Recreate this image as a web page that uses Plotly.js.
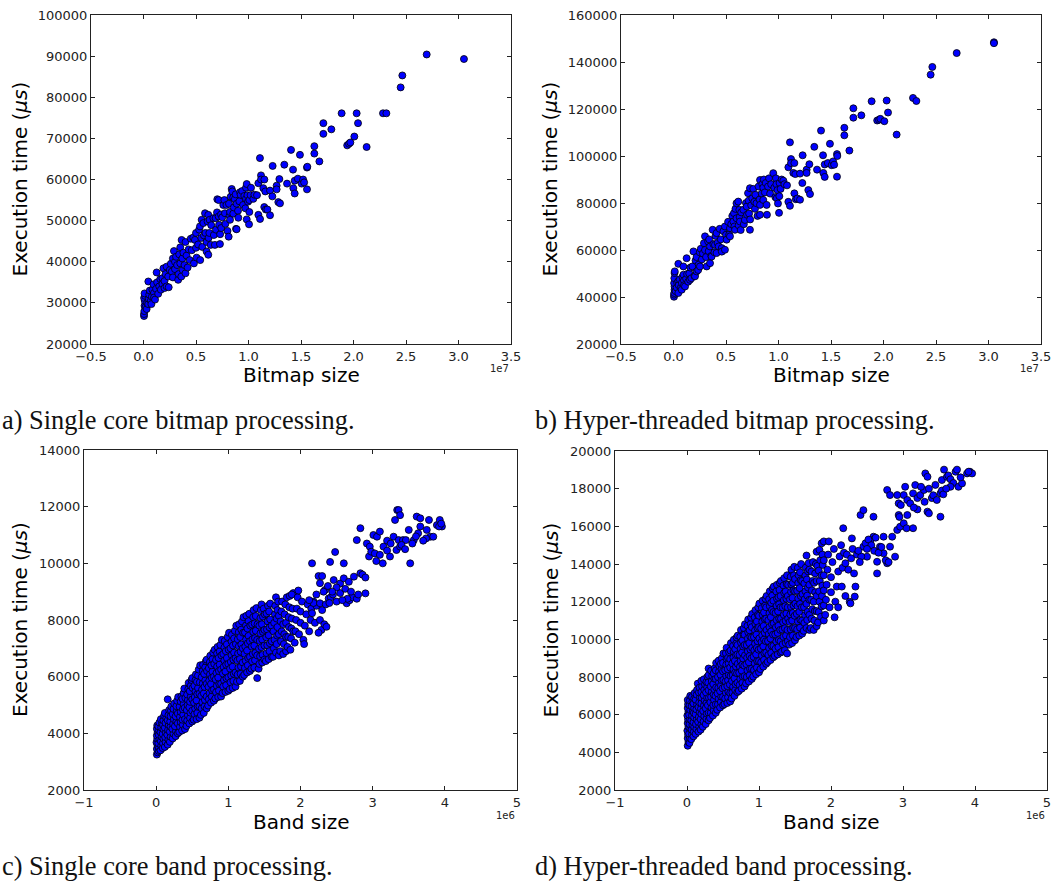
<!DOCTYPE html>
<html>
<head>
<meta charset="utf-8">
<script src="https://cdn.plot.ly/plotly-3.0.1.min.js"></script>
<style>
html,body{margin:0;padding:0;background:#fff;}
#chart{width:1059px;height:884px;}
</style>
</head>
<body>
<div id="chart"></div>
<script>
// ---- Data: [size, execution time in microseconds] ----
// (a) Single core bitmap processing (size in units of 1e7)
const singleCoreBitmap = [
[0.005,26800],[0.005,27300],[0.008,28000],[0.01,29300],[0.012,30500],[0.006,31200],[0.015,31700],[0.01,32300],[0.02,29000],[0.03,28500],[0.035,30000],[0.045,29700],[0.05,31000],[0.046,35200],[0.055,32000],[0.06,33000],[0.07,30500],[0.075,29700],[0.08,31500],[0.085,33200],[0.095,34500],[0.10,32400],[0.10,31300],
[0.11,30800],[0.12,33400],[0.125,37400],[0.13,35000],[0.14,32200],[0.15,34000],[0.16,35800],[0.165,33200],[0.18,36000],[0.18,34600],[0.19,38400],[0.2,33600],[0.2,35300],[0.21,37000],[0.22,38800],[0.22,34000],[0.235,36400],[0.24,33800],[0.25,38000],
[0.26,39500],[0.27,37600],[0.28,40800],[0.28,36200],[0.29,42600],[0.3,40000],[0.3,38200],[0.31,41200],[0.32,39200],[0.33,35600],[0.335,37000],[0.34,41800],[0.35,43500],[0.35,39600],[0.36,36400],[0.363,45300],[0.37,40800],[0.373,38000],[0.38,42200],[0.39,39200],[0.4,44800],[0.4,37200],[0.41,41500],[0.42,38600],[0.43,43000],[0.44,40400],[0.45,45600],
[0.46,42800],[0.475,45900],[0.48,39600],[0.49,45300],[0.5,43400],[0.5,47000],[0.506,41000],[0.52,44200],[0.53,47800],[0.538,48600],[0.54,40400],[0.55,45800],[0.554,50200],[0.56,43600],[0.57,49400],[0.575,46400],[0.586,51800],[0.59,47000],[0.6,44800],[0.601,42500],[0.61,49800],[0.617,41700],[0.617,51400],[0.62,45800],[0.627,47000],[0.63,50200],[0.64,44100],[0.645,48900],
[0.665,50600],[0.67,46500],[0.68,44100],[0.687,50600],[0.69,47800],[0.7,52000],[0.703,55200],[0.716,51000],[0.716,55000],[0.72,49000],[0.728,44300],[0.73,46700],[0.738,51500],[0.74,48200],[0.75,50800],[0.76,53800],[0.77,55000],[0.776,51800],[0.78,49200],[0.79,53800],[0.8,47500],[0.811,46100],[0.814,54100],[0.82,51200],[0.824,52100],[0.824,50200],[0.83,55800],[0.84,57700],[0.846,57100],[0.855,51700],[0.855,55600],
[0.86,53200],[0.87,55200],[0.878,56400],[0.881,48000],[0.887,47900],[0.887,54100],[0.9,52400],[0.903,50700],[0.913,54700],[0.919,56900],[0.925,56300],[0.94,57200],[0.948,53800],[0.96,56000],[0.97,53000],[0.976,58000],[0.976,55300],[0.983,58900],[0.983,50300],[0.99,56200],[0.995,54600],[1.005,49100],[1.008,52100],[1.008,55000],[1.02,56200],[1.024,58000],[1.046,55300],[1.056,56300],[1.081,56200],
[1.094,59100],[1.094,51400],[1.109,65200],[1.11,50400],[1.119,61000],[1.119,60000],[1.141,57900],[1.15,53300],[1.151,60000],[1.16,57100],[1.165,52700],[1.18,52700],[1.205,57300],[1.205,51300],[1.227,55900],[1.23,63300],[1.268,58500],[1.268,57600],[1.284,54500],[1.294,60100],[1.3,54200],[1.341,63600],[1.367,59000],[1.405,67200],[1.424,62400],[1.427,57900],[1.44,59700],[1.44,56600],[1.47,60200],[1.49,66000],[1.506,59000],[1.52,60000],[1.53,59300],[1.557,62900],[1.557,57600],[1.56,63100],
[1.627,68100],[1.627,66300],[1.675,64400],[1.713,73700],[1.713,71100],[1.789,72200],[1.887,76100],[1.94,68300],[1.957,68700],[1.97,69000],[2.008,70450],[2.03,76100],[2.043,73700],[2.125,67900],[2.281,76100],[2.313,76100],[2.449,82400],[2.465,85300],[2.697,90400],[3.052,89300]
];

// (b) Hyper-threaded bitmap processing (size in units of 1e7)
const hyperThreadedBitmap = [
[0.005,40100],[0.005,41000],[0.008,41700],[0.01,43100],[0.01,44500],[0.006,45900],[0.008,48000],[0.01,50200],[0.012,50900],[0.02,42500],[0.03,44000],[0.035,46000],[0.046,41700],[0.046,46700],[0.046,54100],[0.05,45000],[0.06,47500],[0.07,44000],[0.078,43100],[0.08,46000],[0.085,48500],[0.095,49500],[0.094,53000],[0.1,47000],[0.1,45000],
[0.11,44500],[0.12,47800],[0.125,56500],[0.13,49800],[0.14,46500],[0.15,50000],[0.157,47300],[0.16,52500],[0.17,48000],[0.18,53000],[0.19,59400],[0.2,49000],[0.205,48800],[0.21,55500],[0.22,50900],[0.22,57000],[0.235,51500],[0.24,53800],[0.25,59000],
[0.252,53000],[0.26,60500],[0.27,56000],[0.28,58500],[0.29,62900],[0.3,65800],[0.3,60000],[0.31,57000],[0.316,53000],[0.33,63600],[0.335,59500],[0.34,64500],[0.348,54400],[0.348,61500],[0.36,57500],[0.363,57200],[0.373,68600],[0.38,62500],[0.39,59000],[0.395,62200],[0.4,66000],[0.41,58700],[0.41,67200],[0.42,63000],[0.43,61500],[0.44,69000],[0.45,64500],
[0.46,60800],[0.46,59300],[0.475,68000],[0.49,60100],[0.49,70000],[0.5,66500],[0.506,64400],[0.52,72000],[0.53,66500],[0.538,69300],[0.538,65800],[0.55,71000],[0.56,74500],[0.57,72100],[0.576,75700],[0.58,70000],[0.586,68600],[0.59,77500],[0.6,79900],[0.6,73500],[0.617,80600],[0.62,70500],[0.627,77100],[0.63,74000],[0.633,72100],[0.64,68500],[0.645,76000],
[0.665,77100],[0.67,71000],[0.68,72800],[0.69,80000],[0.697,78500],[0.7,75000],[0.71,84200],[0.716,81000],[0.72,75500],[0.728,86300],[0.728,68600],[0.73,73000],[0.74,79000],[0.75,82000],[0.76,86000],[0.77,80500],[0.776,77500],[0.78,83500],[0.79,79900],[0.8,74500],[0.81,87000],[0.82,81500],[0.824,79200],[0.824,75000],[0.824,89800],[0.84,84000],[0.846,88000],[0.855,81300],[0.855,86500],
[0.86,90000],[0.87,84500],[0.878,88500],[0.887,79200],[0.89,75000],[0.9,87000],[0.91,90500],[0.92,84000],[0.93,88000],[0.95,92700],[0.96,86500],[0.97,82500],[0.975,90500],[0.98,88000],[0.983,82000],[0.99,85500],[0.995,79800],[1.005,75800],[1.008,82900],[1.01,88500],[1.02,86000],[1.03,90000],[1.046,89500],[1.056,88000],[1.081,87500],
[1.094,95200],[1.094,80500],[1.109,105800],[1.109,78800],[1.119,98700],[1.119,97000],[1.141,92800],[1.151,84100],[1.151,97000],[1.16,92300],[1.165,81600],[1.18,81900],[1.205,92500],[1.205,81400],[1.227,88500],[1.23,100300],[1.268,94200],[1.268,92800],[1.284,85500],[1.294,96500],[1.3,83800],[1.341,103900],[1.367,94200],[1.405,110800],[1.424,100300],[1.427,92800],[1.44,96400],[1.44,91100],[1.47,97000],[1.49,105200],[1.506,96100],[1.52,97700],[1.53,96300],[1.557,100800],[1.557,91200],[1.56,100000],
[1.627,112000],[1.627,108800],[1.675,102300],[1.713,120300],[1.713,116300],[1.789,117300],[1.887,123300],[1.94,115100],[1.957,115400],[1.97,115800],[2.008,114800],[2.03,123600],[2.043,118500],[2.125,109100],[2.281,124700],[2.313,123400],[2.449,134600],[2.465,137900],[2.697,143800],[3.052,148400],[3.052,148000]
];

// (c) Single core band processing (size in units of 1e6)
const singleCoreBand = [
[0.01,3250],[0.02,3330],[0.01,3450],[0.02,3560],[0.005,3680],[0.015,3800],[0.01,3920],[0.02,4040],[0.01,4160],[0.015,4280],[0.035,3380],[0.04,3500],[0.03,3650],[0.045,3790],[0.035,3950],[0.04,4100],[0.03,4250],[0.045,4380],
[0.06,3400],[0.07,3560],[0.065,3720],[0.075,3880],[0.06,4040],[0.07,4200],[0.08,4350],[0.065,4500],[0.09,3480],[0.095,3650],[0.1,3820],[0.09,3980],[0.1,4150],[0.095,4300],[0.1,4460],[0.11,4620],
[0.12,3520],[0.13,3700],[0.125,3870],[0.135,4030],[0.12,4200],[0.13,4370],[0.14,4540],[0.12,4720],[0.16,3600],[0.17,3780],[0.155,3950],[0.165,4120],[0.175,4290],[0.16,4460],[0.17,4640],[0.18,4820],[0.16,5200],[0.19,3700],[0.2,3880],[0.19,4060],[0.2,4240],[0.195,4420],[0.2,4600],[0.205,4800],[0.21,4950],
[0.23,3820],[0.24,3990],[0.225,4160],[0.235,4330],[0.245,4500],[0.23,4680],[0.24,4860],[0.25,5050],[0.27,3900],[0.275,4080],[0.26,4250],[0.28,4420],[0.27,4600],[0.285,4780],[0.28,4960],[0.29,5150],[0.3,4000],[0.3,4350],[0.3,4700],[0.305,5280],
[0.32,4050],[0.33,4230],[0.34,4400],[0.33,4580],[0.34,4760],[0.325,4940],[0.34,5120],[0.35,5300],[0.36,4100],[0.37,4300],[0.365,4480],[0.375,4660],[0.37,4850],[0.38,5030],[0.365,5220],[0.38,5420],[0.39,5580],[0.4,4150],[0.4,4500],[0.395,4900],[0.405,5250],
[0.42,4260],[0.43,4450],[0.44,4640],[0.425,4820],[0.435,5000],[0.44,5180],[0.43,5370],[0.445,5560],[0.45,5780],[0.46,4350],[0.47,4540],[0.475,4730],[0.46,4920],[0.47,5110],[0.48,5300],[0.465,5490],[0.48,5680],[0.49,5880],[0.5,4420],[0.5,4800],[0.5,5200],[0.505,5600],[0.5,5950],
[0.52,4480],[0.53,4680],[0.54,4880],[0.525,5080],[0.535,5280],[0.545,5480],[0.53,5680],[0.545,5880],[0.55,6080],[0.56,4500],[0.57,4720],[0.575,4940],[0.56,5160],[0.57,5380],[0.58,5600],[0.565,5820],[0.58,6040],[0.59,6250],[0.6,4550],[0.6,4950],[0.6,5400],[0.605,5800],[0.61,6400],
[0.62,4650],[0.63,4880],[0.64,5100],[0.625,5320],[0.635,5540],[0.645,5760],[0.63,5980],[0.645,6200],[0.65,6420],[0.66,4720],[0.67,4950],[0.675,5180],[0.66,5410],[0.67,5640],[0.68,5870],[0.665,6100],[0.68,6330],[0.69,6550],[0.7,4880],[0.7,5300],[0.7,5750],[0.705,6200],[0.7,6600],
[0.72,4980],[0.73,5200],[0.74,5420],[0.725,5640],[0.735,5860],[0.745,6080],[0.73,6300],[0.745,6520],[0.75,6740],[0.76,5080],[0.77,5300],[0.775,5520],[0.76,5740],[0.77,5960],[0.78,6180],[0.765,6400],[0.78,6620],[0.79,6850],[0.8,5150],[0.8,5550],[0.8,6000],[0.805,6450],[0.81,6950],
[0.82,5230],[0.83,5450],[0.84,5680],[0.825,5900],[0.835,6130],[0.845,6360],[0.83,6590],[0.845,6820],[0.85,7050],[0.86,5280],[0.87,5510],[0.875,5740],[0.86,5970],[0.87,6200],[0.88,6430],[0.865,6660],[0.88,6890],[0.89,7120],[0.9,5300],[0.9,5750],[0.9,6250],[0.905,6750],[0.91,7300],
[0.92,5420],[0.93,5650],[0.94,5880],[0.925,6110],[0.935,6340],[0.945,6570],[0.93,6800],[0.945,7030],[0.95,7260],[0.96,5460],[0.97,5700],[0.975,5940],[0.96,6180],[0.97,6420],[0.98,6660],[0.965,6900],[0.98,7140],[0.99,7400],[1.0,5500],[1.0,5980],[1.0,6450],[1.005,6950],[1.01,7550],
[1.02,5560],[1.03,5800],[1.04,6040],[1.025,6280],[1.035,6520],[1.045,6760],[1.03,7000],[1.045,7240],[1.05,7480],[1.06,5600],[1.07,5850],[1.075,6100],[1.06,6350],[1.07,6600],[1.08,6850],[1.065,7100],[1.08,7350],[1.09,7620],[1.1,5650],[1.1,6150],[1.1,6650],[1.105,7150],[1.11,7800],
[1.12,5820],[1.13,6070],[1.14,6320],[1.125,6570],[1.135,6820],[1.145,7070],[1.13,7320],[1.145,7570],[1.15,7850],[1.16,5850],[1.17,6100],[1.175,6360],[1.16,6620],[1.17,6880],[1.18,7140],[1.165,7400],[1.18,7660],[1.19,7950],[1.2,6000],[1.2,6500],[1.2,7000],[1.205,7550],[1.21,8100],
[1.22,6060],[1.23,6310],[1.24,6560],[1.225,6810],[1.235,7060],[1.245,7310],[1.23,7560],[1.245,7810],[1.25,8150],[1.26,6150],[1.27,6400],[1.275,6660],[1.26,6920],[1.27,7180],[1.28,7440],[1.265,7700],[1.28,7960],[1.29,8220],[1.3,6200],[1.3,6700],[1.3,7250],[1.305,7800],
[1.32,6280],[1.33,6540],[1.34,6800],[1.325,7060],[1.335,7320],[1.345,7580],[1.33,7840],[1.345,8100],[1.35,8350],[1.36,6320],[1.37,6580],[1.375,6840],[1.36,7100],[1.37,7360],[1.38,7620],[1.365,7880],[1.38,8140],[1.39,8420],[1.4,5950],[1.42,6280],[1.4,6750],[1.4,7300],[1.405,7850],
[1.43,6450],[1.44,6720],[1.425,6990],[1.435,7260],[1.445,7530],[1.43,7800],[1.445,8070],[1.45,8350],[1.46,8550],[1.47,6500],[1.475,6770],[1.46,7040],[1.47,7310],[1.48,7580],[1.465,7850],[1.48,8120],[1.49,8400],[1.5,6600],[1.5,7100],[1.5,7650],[1.505,8200],
[1.52,6550],[1.53,6830],[1.54,7110],[1.525,7390],[1.535,7670],[1.545,7950],[1.53,8230],[1.55,8500],[1.56,6620],[1.57,6900],[1.575,7180],[1.56,7460],[1.57,7740],[1.58,8020],[1.565,8300],[1.58,8580],[1.6,6700],[1.6,7250],[1.6,7800],
[1.62,6700],[1.63,7000],[1.64,7300],[1.625,7600],[1.635,7900],[1.645,8200],[1.65,8500],[1.66,8800],[1.66,6850],[1.67,7150],[1.675,7450],[1.68,7750],[1.67,8050],[1.68,8350],[1.69,8650],[1.7,6750],[1.7,7500],[1.7,8150],
[1.72,6900],[1.73,7250],[1.74,7600],[1.725,7950],[1.735,8300],[1.745,8650],[1.76,6800],[1.77,7150],[1.775,7500],[1.76,7850],[1.78,8200],[1.79,8550],[1.8,6900],[1.8,7400],[1.8,7900],[1.81,8800],
[1.82,7050],[1.83,7400],[1.84,7750],[1.835,8100],[1.845,8450],[1.85,8850],[1.86,6950],[1.87,7350],[1.875,7700],[1.88,8050],[1.89,8400],[1.9,8950],[1.9,7600],[1.88,8900],
[1.92,7200],[1.93,7600],[1.94,8000],[1.95,8400],[1.96,8800],[1.97,9040],[1.98,7500],[2.0,7900],[2.0,8300],[2.02,8650],[2.04,7300],[2.05,7150],[2.06,7800],[2.08,8200],[2.1,8550],[2.12,7600],[2.14,8000],[2.15,8400],[2.16,8240],[2.18,8650],[2.2,7900],[2.22,8500],[2.18,8600],[2.12,8700],
[2.16,10000],[2.25,9550],[2.27,9300],[2.3,9550],[2.34,9060],[2.41,10050],[2.48,10400],[2.6,10000],[2.46,9410],[2.55,9290],[2.6,9470],[2.67,9350],[2.74,9530],[2.83,9650],[2.86,9600],[2.9,9500],[2.9,8940],[2.27,8590],[2.39,8760],[2.5,8650],[2.64,8590],[2.68,8700],[2.72,8800],[2.78,8750],[2.8,8900],[2.27,8000],[2.29,7650],[2.33,7850],[2.36,7760],[2.25,7550],[2.3,8350],[2.35,8550],[2.42,8800],[2.45,8900],[2.55,8950],[2.62,9100],[2.7,9000],[2.65,8750],[2.58,8700],[2.4,8600],[2.22,8900],[2.32,9000],[2.38,9200],[2.5,9150],[2.44,9000],
[2.78,10820],[2.83,11240],[2.92,10700],[2.96,10590],[3.01,11000],[3.06,10940],[3.1,11120],[3.15,10590],[2.95,10240],[2.98,10410],[3.03,10350],[3.05,10080],[3.14,10000],[3.24,10240],[3.29,10940],[3.31,11530],[3.34,11880],[3.36,11880],[3.38,11700],[3.36,10820],[3.33,10470],[3.38,10590],[3.42,10820],[3.46,10820],[3.5,11180],[3.52,10000],[3.57,10820],[3.61,11650],[3.66,11590],[3.66,11300],[3.63,11060],[3.75,11180],[3.78,11530],[3.8,10940],[3.84,10940],[3.89,11350],[3.93,11530],[3.96,11300],[3.92,11300],[3.74,10880],[3.2,10800],[3.25,10700],[3.4,10650],[3.55,10700],[3.6,10950],[3.7,10800],[3.1,10300],[3.2,10450],[3.45,10500],[3.95,11400]
];

// (d) Hyper-threaded band processing (size in units of 1e6)
const hyperThreadedBand = [
[0.01,4350],[0.02,4550],[0.01,4750],[0.015,4950],[0.005,5150],[0.02,5350],[0.01,5550],[0.015,5750],[0.005,5950],[0.02,6150],[0.01,6350],[0.015,6550],[0.01,6780],[0.035,4500],[0.04,4750],[0.03,5000],[0.045,5250],[0.035,5500],[0.04,5750],[0.03,6000],[0.045,6250],[0.035,6500],[0.04,6750],[0.045,7000],
[0.06,4700],[0.07,4950],[0.065,5200],[0.075,5450],[0.06,5700],[0.07,5950],[0.08,6200],[0.065,6450],[0.075,6700],[0.07,6950],[0.09,4850],[0.095,5100],[0.1,5350],[0.09,5600],[0.1,5850],[0.095,6100],[0.1,6350],[0.09,6600],[0.1,6850],[0.105,7150],
[0.12,4980],[0.13,5240],[0.125,5500],[0.135,5760],[0.12,6020],[0.13,6280],[0.14,6540],[0.12,6800],[0.135,7060],[0.14,7320],[0.15,7650],[0.16,5100],[0.17,5360],[0.155,5620],[0.165,5880],[0.175,6140],[0.16,6400],[0.17,6660],[0.18,6920],[0.165,7180],[0.175,7440],[0.19,5200],[0.2,5480],[0.19,5760],[0.2,6040],[0.195,6320],[0.2,6600],[0.205,6900],[0.2,7200],[0.21,7500],[0.2,7800],
[0.22,5360],[0.23,5640],[0.24,5920],[0.225,6200],[0.235,6480],[0.245,6760],[0.23,7040],[0.24,7320],[0.25,7600],[0.235,7880],[0.26,5500],[0.27,5780],[0.275,6060],[0.26,6340],[0.27,6620],[0.28,6900],[0.265,7180],[0.28,7460],[0.27,7740],[0.285,8020],[0.3,5700],[0.3,6100],[0.29,6500],[0.305,6900],[0.3,7300],[0.295,7700],[0.3,8100],[0.3,8450],
[0.32,5820],[0.33,6100],[0.34,6380],[0.325,6660],[0.335,6940],[0.345,7220],[0.33,7500],[0.345,7780],[0.35,8060],[0.335,8340],[0.36,5950],[0.37,6230],[0.365,6510],[0.375,6790],[0.37,7070],[0.38,7350],[0.365,7630],[0.38,7910],[0.37,8190],[0.385,8470],[0.4,6100],[0.4,6550],[0.395,7000],[0.405,7450],[0.4,7900],[0.4,8350],[0.405,8750],
[0.42,6260],[0.43,6550],[0.44,6840],[0.425,7130],[0.435,7420],[0.445,7710],[0.43,8000],[0.445,8290],[0.45,8580],[0.44,8870],[0.46,6380],[0.47,6670],[0.475,6960],[0.46,7250],[0.47,7540],[0.48,7830],[0.465,8120],[0.48,8410],[0.47,8700],[0.485,9000],[0.5,6500],[0.5,6950],[0.495,7400],[0.505,7850],[0.5,8300],[0.5,8750],[0.505,9250],
[0.52,6560],[0.53,6860],[0.54,7160],[0.525,7460],[0.535,7760],[0.545,8060],[0.53,8360],[0.545,8660],[0.55,8960],[0.54,9260],[0.55,9550],[0.56,6620],[0.57,6920],[0.575,7220],[0.56,7520],[0.57,7820],[0.58,8120],[0.565,8420],[0.58,8720],[0.57,9020],[0.585,9320],[0.6,6700],[0.6,7150],[0.595,7600],[0.605,8050],[0.6,8500],[0.6,8950],[0.605,9400],[0.61,9800],
[0.62,6860],[0.63,7170],[0.64,7480],[0.625,7790],[0.635,8100],[0.645,8410],[0.63,8720],[0.645,9030],[0.65,9340],[0.64,9650],[0.65,9980],[0.66,7000],[0.67,7310],[0.675,7620],[0.66,7930],[0.67,8240],[0.68,8550],[0.665,8860],[0.68,9170],[0.67,9480],[0.685,9790],[0.69,10100],[0.7,7200],[0.7,7700],[0.695,8200],[0.705,8700],[0.7,9200],[0.7,9700],[0.705,10200],
[0.72,7260],[0.73,7580],[0.74,7900],[0.725,8220],[0.735,8540],[0.745,8860],[0.73,9180],[0.745,9500],[0.75,9820],[0.74,10140],[0.75,10500],[0.76,7380],[0.77,7700],[0.775,8020],[0.76,8340],[0.77,8660],[0.78,8980],[0.765,9300],[0.78,9620],[0.77,9940],[0.785,10260],[0.79,10600],[0.8,7500],[0.8,8050],[0.795,8600],[0.805,9150],[0.8,9700],[0.8,10250],[0.805,10800],
[0.82,7660],[0.83,8000],[0.84,8340],[0.825,8680],[0.835,9020],[0.845,9360],[0.83,9700],[0.845,10040],[0.85,10380],[0.84,10720],[0.85,11050],[0.86,7760],[0.87,8100],[0.875,8440],[0.86,8780],[0.87,9120],[0.88,9460],[0.865,9800],[0.88,10140],[0.87,10480],[0.885,10820],[0.89,11150],[0.9,7900],[0.9,8450],[0.895,9000],[0.905,9550],[0.9,10100],[0.9,10650],[0.905,11350],
[0.92,8020],[0.93,8370],[0.94,8720],[0.925,9070],[0.935,9420],[0.945,9770],[0.93,10120],[0.945,10470],[0.95,10820],[0.94,11170],[0.95,11550],[0.96,8150],[0.97,8500],[0.975,8850],[0.96,9200],[0.97,9550],[0.98,9900],[0.965,10250],[0.98,10600],[0.97,10950],[0.985,11300],[0.99,11700],[1.0,8250],[1.0,8850],[0.995,9450],[1.005,10050],[1.0,10650],[1.0,11250],[1.005,11900],
[1.02,8420],[1.03,8780],[1.04,9140],[1.025,9500],[1.035,9860],[1.045,10220],[1.03,10580],[1.045,10940],[1.05,11300],[1.04,11660],[1.05,12050],[1.06,8550],[1.07,8910],[1.075,9270],[1.06,9630],[1.07,9990],[1.08,10350],[1.065,10710],[1.08,11070],[1.07,11430],[1.085,11790],[1.09,12150],[1.1,8700],[1.1,9300],[1.095,9900],[1.105,10500],[1.1,11100],[1.1,11700],[1.105,12300],
[1.12,8800],[1.13,9170],[1.14,9540],[1.125,9910],[1.135,10280],[1.145,10650],[1.13,11020],[1.145,11390],[1.15,11760],[1.14,12130],[1.15,12550],[1.16,8900],[1.17,9280],[1.175,9660],[1.16,10040],[1.17,10420],[1.18,10800],[1.165,11180],[1.18,11560],[1.17,11940],[1.185,12320],[1.19,12700],[1.2,9050],[1.2,9650],[1.195,10250],[1.205,10850],[1.2,11450],[1.2,12050],[1.205,12800],
[1.22,9120],[1.23,9500],[1.24,9880],[1.225,10260],[1.235,10640],[1.245,11020],[1.23,11400],[1.245,11780],[1.25,12160],[1.24,12540],[1.25,12900],[1.26,9200],[1.27,9580],[1.275,9960],[1.26,10340],[1.27,10720],[1.28,11100],[1.265,11480],[1.28,11860],[1.27,12240],[1.285,12620],[1.29,13000],[1.3,9300],[1.3,9900],[1.295,10500],[1.305,11100],[1.3,11700],[1.3,12300],[1.305,13100],
[1.32,9350],[1.33,9740],[1.34,10130],[1.325,10520],[1.335,10910],[1.345,11300],[1.33,11690],[1.345,12080],[1.35,12470],[1.34,12860],[1.35,13250],[1.36,9420],[1.37,9810],[1.375,10200],[1.36,10590],[1.37,10980],[1.38,11370],[1.365,11760],[1.38,12150],[1.37,12540],[1.385,12930],[1.39,13400],[1.39,9250],[1.4,9900],[1.395,10500],[1.405,11100],[1.4,11700],[1.4,12300],[1.405,12900],
[1.42,9720],[1.43,10120],[1.44,10520],[1.425,10920],[1.435,11320],[1.445,11720],[1.43,12120],[1.445,12520],[1.45,12920],[1.44,13320],[1.45,13700],[1.46,9800],[1.47,10200],[1.475,10600],[1.46,11000],[1.47,11400],[1.48,11800],[1.465,12200],[1.48,12600],[1.47,13000],[1.485,13400],[1.49,13850],[1.5,9950],[1.5,10600],[1.495,11250],[1.505,11900],[1.5,12550],[1.5,13200],
[1.52,10120],[1.53,10530],[1.54,10940],[1.525,11350],[1.535,11760],[1.545,12170],[1.53,12580],[1.545,12990],[1.55,13400],[1.54,13800],[1.56,10200],[1.57,10620],[1.575,11040],[1.56,11460],[1.57,11880],[1.58,12300],[1.565,12720],[1.58,13140],[1.57,13560],[1.585,14000],[1.6,10300],[1.6,11000],[1.595,11700],[1.605,12400],[1.6,13100],
[1.62,10450],[1.63,10870],[1.64,11290],[1.625,11710],[1.635,12130],[1.645,12550],[1.63,12970],[1.645,13390],[1.65,13810],[1.66,14450],[1.66,10600],[1.67,11030],[1.675,11460],[1.66,11890],[1.67,12320],[1.68,12750],[1.665,13180],[1.68,13610],[1.69,14050],[1.7,10500],[1.7,11300],[1.7,12100],[1.7,12900],[1.7,13700],
[1.72,10600],[1.73,11100],[1.74,11600],[1.725,12100],[1.735,12600],[1.745,13100],[1.73,13600],[1.75,14100],[1.76,10500],[1.77,11000],[1.775,11500],[1.76,12000],[1.78,12500],[1.765,13000],[1.78,13500],[1.79,14000],[1.8,10700],[1.8,11500],[1.8,12300],[1.8,13100],[1.81,13900],[1.8,14650],
[1.82,10900],[1.83,11450],[1.84,12000],[1.835,12550],[1.845,13100],[1.83,13650],[1.85,14200],[1.84,14750],[1.86,11200],[1.87,11750],[1.875,12300],[1.88,12850],[1.87,13400],[1.885,13950],[1.88,14500],[1.87,15100],[1.9,11000],[1.9,11800],[1.9,12600],[1.9,13400],[1.9,14200],[1.9,15200],
[1.92,11300],[1.93,12100],[1.94,12900],[1.95,13700],[1.96,14500],[1.97,15200],[1.98,11700],[2.0,12500],[2.0,13300],[2.02,14100],[2.04,14800],[2.05,11170],[2.06,12000],[2.08,12800],[2.1,13600],[2.12,14400],[2.14,15000],[2.15,12800],[2.17,15900],[2.16,13800],[2.2,14040],[2.18,14600],[2.1,11700],[2.2,12300],[2.22,14500],[2.24,13700],[2.26,12000],[2.27,11910],[2.29,15360],[2.28,14300],[2.3,14800],[2.33,12270],[2.34,12800],[2.36,14500],[2.32,13500],
[2.41,16600],[2.45,16860],[2.59,16510],[2.59,15450],[2.55,15270],[2.45,14920],[2.5,14390],[2.42,14400],[2.68,14920],[2.73,14570],[2.82,14920],[2.89,14390],[2.64,13500],[2.64,14120],[2.78,14040],[2.73,15450],[2.85,15450],[2.92,15810],[2.96,15980],[2.48,15100],[2.52,15300],[2.56,15000],[2.6,14700],[2.62,15400],[2.66,14600],[2.7,14900],[2.76,14200],[2.8,14100],[2.5,14800],[2.4,14100],[2.38,14700],
[3.01,16160],[3.05,15900],[3.14,15900],[2.78,17930],[2.82,17660],[2.92,17660],[2.94,17220],[2.94,16600],[2.95,16500],[2.97,17130],[3.01,17660],[3.03,18100],[3.06,17400],[3.06,16600],[3.1,17220],[3.14,17750],[3.17,18190],[3.2,17500],[3.2,16900],[3.24,17660],[3.29,17930],[3.31,18810],[3.34,18630],[3.36,18000],[3.34,16780],[3.36,16690],[3.4,17500],[3.42,17650],[3.47,17400],[3.52,17750],[3.54,17900],[3.56,17700],[3.52,16510],[3.54,18460],[3.57,19010],[3.61,18630],[3.63,18700],[3.66,18500],[3.7,18300],[3.73,18900],[3.75,19010],[3.66,18100],[3.77,18100],[3.82,18280],[3.89,18810],[3.93,18900],[3.96,18810],[3.91,18900],[3.25,18100],[3.3,17300],[3.15,17000],[3.45,18200],[3.6,18000],[3.8,18600]
];

// Text
const yTitle = 'Execution time (<i>μs</i>)';
const xTitles = ['Bitmap size', 'Bitmap size', 'Band size', 'Band size'];
const offsetTexts = ['1e7', '1e7', '1e6', '1e6'];
const captions = [
  'a) Single core bitmap processing.',
  'b) Hyper-threaded bitmap processing.',
  'c) Single core band processing.',
  'd) Hyper-threaded band processing.'
];

// ---- Build chart ----
const W = 1059, H = 884;
const px = v => v / W;
const py = v => 1 - v / H;

const marker = {size: 7, color: '#0000ff', line: {color: '#000000', width: 0.8}};
function trace(data, ax) {
  return {
    type: 'scatter', mode: 'markers',
    x: data.map(d => d[0]), y: data.map(d => d[1]),
    xaxis: 'x' + ax, yaxis: 'y' + ax,
    marker: marker, hoverinfo: 'skip', cliponaxis: true
  };
}
const traces = [
  trace(singleCoreBitmap, ''),
  trace(hyperThreadedBitmap, '2'),
  trace(singleCoreBand, '3'),
  trace(hyperThreadedBand, '4')
];

const tickFont = {family: 'DejaVu Sans, sans-serif', size: 13, color: '#222'};
function axisBase(extra) {
  return Object.assign({
    showline: true, linecolor: '#222', linewidth: 1, mirror: 'ticks',
    ticks: 'inside', ticklen: 4, tickwidth: 1, tickcolor: '#222',
    showgrid: false, zeroline: false, tickfont: tickFont, fixedrange: true
  }, extra);
}

// plot boxes in pixels: [left, right, top, bottom]
const boxes = [[91, 511, 15, 344], [621, 1041, 15, 344], [84, 517, 450, 790], [615, 1047, 451, 790]];

const layout = {
  width: W, height: H,
  margin: {l: 0, r: 0, t: 0, b: 0},
  paper_bgcolor: '#fff', plot_bgcolor: '#fff',
  showlegend: false, hovermode: false,
  xaxis: axisBase({domain: [px(boxes[0][0]), px(boxes[0][1])], range: [-0.5, 3.5], dtick: 0.5, tick0: 0, tickformat: '.1f', anchor: 'y'}),
  yaxis: axisBase({domain: [py(boxes[0][3]), py(boxes[0][2])], range: [20000, 100000], dtick: 10000, tickformat: 'd', anchor: 'x'}),
  xaxis2: axisBase({domain: [px(boxes[1][0]), px(boxes[1][1])], range: [-0.5, 3.5], dtick: 0.5, tick0: 0, tickformat: '.1f', anchor: 'y2'}),
  yaxis2: axisBase({domain: [py(boxes[1][3]), py(boxes[1][2])], range: [20000, 160000], dtick: 20000, tickformat: 'd', anchor: 'x2'}),
  xaxis3: axisBase({domain: [px(boxes[2][0]), px(boxes[2][1])], range: [-1, 5], dtick: 1, tick0: 0, tickformat: 'd', anchor: 'y3'}),
  yaxis3: axisBase({domain: [py(boxes[2][3]), py(boxes[2][2])], range: [2000, 14000], dtick: 2000, tickformat: 'd', anchor: 'x3'}),
  xaxis4: axisBase({domain: [px(boxes[3][0]), px(boxes[3][1])], range: [-1, 5], dtick: 1, tick0: 0, tickformat: 'd', anchor: 'y4'}),
  yaxis4: axisBase({domain: [py(boxes[3][3]), py(boxes[3][2])], range: [2000, 20000], dtick: 2000, tickformat: 'd', anchor: 'x4'}),
  annotations: []
};

const sansTitle = {family: 'DejaVu Sans, sans-serif', size: 20, color: '#000'};
const captionFont = {family: 'Liberation Serif, serif', size: 26.4, color: '#111'};
const capX = [0, 533, 0, 533];
const capY = [420, 420, 866, 866];
const xTitleY = [375, 375, 822, 822];
const offY = [368, 368, 815, 815];

boxes.forEach((b, i) => {
  const cx = (b[0] + b[1]) / 2, cy = (b[2] + b[3]) / 2;
  const colStart = i % 2 === 0 ? 0 : 530;
  layout.annotations.push(
    {xref: 'paper', yref: 'paper', x: px(colStart + 20), y: py(cy), text: yTitle, textangle: -90,
     showarrow: false, xanchor: 'center', yanchor: 'middle', font: sansTitle},
    {xref: 'paper', yref: 'paper', x: px(cx), y: py(xTitleY[i]), text: xTitles[i],
     showarrow: false, xanchor: 'center', yanchor: 'middle', font: sansTitle},
    {xref: 'paper', yref: 'paper', x: px(b[1]), y: py(offY[i]), text: offsetTexts[i],
     showarrow: false, xanchor: 'right', yanchor: 'middle', font: {family: 'DejaVu Sans, sans-serif', size: 10, color: '#222'}},
    {xref: 'paper', yref: 'paper', x: px(capX[i]), y: py(capY[i]), text: captions[i],
     showarrow: false, xanchor: 'left', yanchor: 'middle', font: captionFont}
  );
});

Plotly.newPlot('chart', traces, layout, {staticPlot: true, displayModeBar: false});
</script>
</body>
</html>
